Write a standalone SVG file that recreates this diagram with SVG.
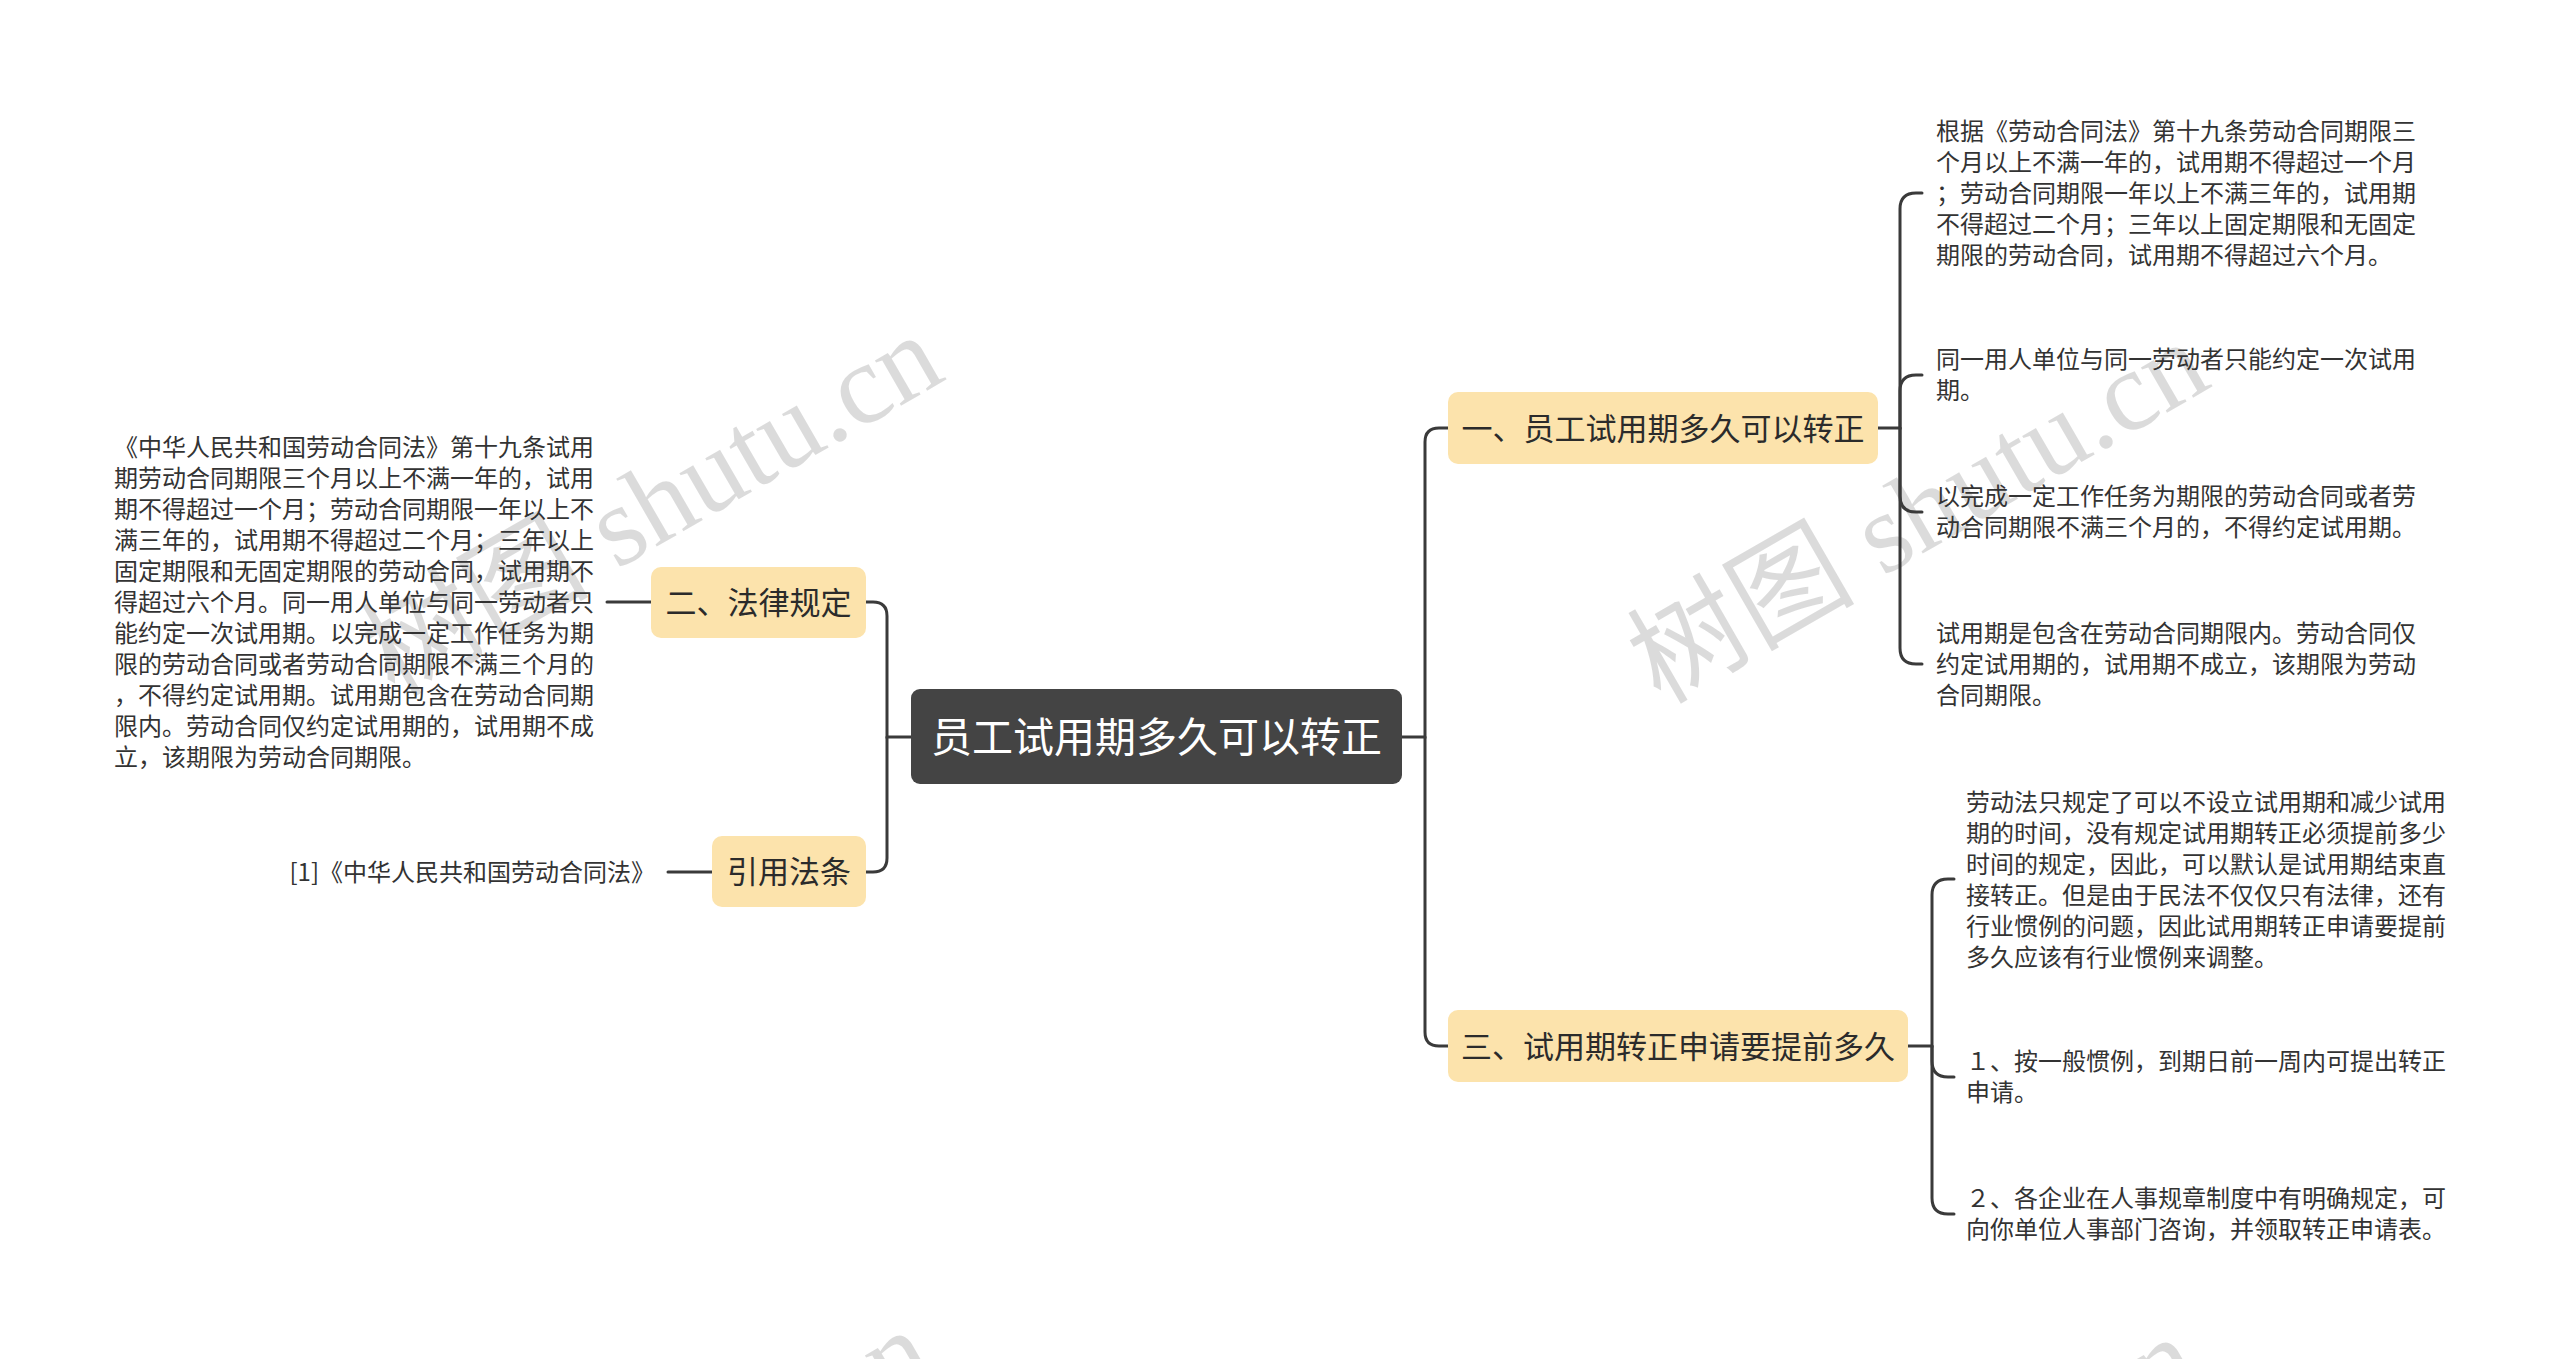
<svg xmlns="http://www.w3.org/2000/svg" width="2560" height="1359" viewBox="0 0 2560 1359">
<style>
.wm{font-family:"Liberation Serif","Noto Sans CJK SC",serif;font-size:114px;fill:#000;fill-opacity:0.14}
.root{fill:#444444}
.topic{fill:#FCE3AC}
.rt{font-family:"Noto Sans CJK SC","Noto Sans",sans-serif;font-size:41px;fill:#ffffff}
.tt{font-family:"Noto Sans CJK SC","Noto Sans",sans-serif;font-size:31px;fill:#2b2b2b}
.bt{font-family:"Noto Sans CJK SC","Noto Sans",sans-serif;font-size:24px;fill:#333333}
.ln{fill:none;stroke:#3a3a3a;stroke-width:3;stroke-linecap:round}
</style>
<rect width="2560" height="1359" fill="#ffffff"/>
<g id="watermarks">
<text class="wm" transform="translate(652,505) rotate(-30)" text-anchor="middle" dominant-baseline="central">树图 shutu.cn</text>
<text class="wm" transform="translate(1918,512) rotate(-30)" text-anchor="middle" dominant-baseline="central">树图 shutu.cn</text>
<text class="wm" transform="translate(642,1500) rotate(-30)" text-anchor="middle" dominant-baseline="central">树图 shutu.cn</text>
<text class="wm" transform="translate(1908,1507) rotate(-30)" text-anchor="middle" dominant-baseline="central">树图 shutu.cn</text>
</g>
<g id="connectors">
<path class="ln" d="M911 737 H887 V616 Q887 602 873 602 H866"/>
<path class="ln" d="M887 737 V858 Q887 872 873 872 H866"/>
<path class="ln" d="M712 872 H668"/>
<path class="ln" d="M651 602 H607"/>
<path class="ln" d="M1402 737 H1425 V442 Q1425 428 1439 428 H1448"/>
<path class="ln" d="M1425 737 V1032 Q1425 1046 1439 1046 H1448"/>
<path class="ln" d="M1878 428 H1900 V209 Q1900 193 1916 193 H1922"/>
<path class="ln" d="M1900 428 V391 Q1900 375 1916 375 H1922"/>
<path class="ln" d="M1900 428 V496 Q1900 512 1916 512 H1922"/>
<path class="ln" d="M1900 428 V648 Q1900 664 1916 664 H1922"/>
<path class="ln" d="M1908 1046 H1932 V895 Q1932 879 1948 879 H1954"/>
<path class="ln" d="M1932 1046 V1061 Q1932 1077 1948 1077 H1954"/>
<path class="ln" d="M1932 1046 V1198 Q1932 1214 1948 1214 H1954"/>
</g>
<g id="root">
<rect class="root" x="911" y="689" width="491" height="95" rx="9"/>
<text class="rt" x="1156.5" y="734" text-anchor="middle" dominant-baseline="central">员工试用期多久可以转正</text>
</g>
<g id="topic1">
<rect class="topic" x="1448" y="392" width="430" height="72" rx="10"/>
<text class="tt" x="1663" y="426" text-anchor="middle" dominant-baseline="central">一、员工试用期多久可以转正</text>
</g>
<g id="topic2">
<rect class="topic" x="651" y="567" width="215" height="71" rx="10"/>
<text class="tt" x="758.5" y="600.5" text-anchor="middle" dominant-baseline="central">二、法律规定</text>
</g>
<g id="topic3">
<rect class="topic" x="1448" y="1010" width="460" height="72" rx="10"/>
<text class="tt" x="1678" y="1044" text-anchor="middle" dominant-baseline="central">三、试用期转正申请要提前多久</text>
</g>
<g id="topic4">
<rect class="topic" x="712" y="836" width="154" height="71" rx="10"/>
<text class="tt" x="789" y="869.5" text-anchor="middle" dominant-baseline="central">引用法条</text>
</g>
<g id="t1-item1">
<text class="bt" dominant-baseline="central">
<tspan x="1936" y="129">根据《劳动合同法》第十九条劳动合同期限三</tspan>
<tspan x="1936" y="160">个月以上不满一年的，试用期不得超过一个月</tspan>
<tspan x="1936" y="191">；劳动合同期限一年以上不满三年的，试用期</tspan>
<tspan x="1936" y="222">不得超过二个月；三年以上固定期限和无固定</tspan>
<tspan x="1936" y="253">期限的劳动合同，试用期不得超过六个月。</tspan>
</text>
</g>
<g id="t1-item2">
<text class="bt" dominant-baseline="central">
<tspan x="1936" y="357">同一用人单位与同一劳动者只能约定一次试用</tspan>
<tspan x="1936" y="388">期。</tspan>
</text>
</g>
<g id="t1-item3">
<text class="bt" dominant-baseline="central">
<tspan x="1936" y="494">以完成一定工作任务为期限的劳动合同或者劳</tspan>
<tspan x="1936" y="525">动合同期限不满三个月的，不得约定试用期。</tspan>
</text>
</g>
<g id="t1-item4">
<text class="bt" dominant-baseline="central">
<tspan x="1936" y="631">试用期是包含在劳动合同期限内。劳动合同仅</tspan>
<tspan x="1936" y="662">约定试用期的，试用期不成立，该期限为劳动</tspan>
<tspan x="1936" y="693">合同期限。</tspan>
</text>
</g>
<g id="t2-item1">
<text class="bt" dominant-baseline="central">
<tspan x="114" y="445">《中华人民共和国劳动合同法》第十九条试用</tspan>
<tspan x="114" y="476">期劳动合同期限三个月以上不满一年的，试用</tspan>
<tspan x="114" y="507">期不得超过一个月；劳动合同期限一年以上不</tspan>
<tspan x="114" y="538">满三年的，试用期不得超过二个月；三年以上</tspan>
<tspan x="114" y="569">固定期限和无固定期限的劳动合同，试用期不</tspan>
<tspan x="114" y="600">得超过六个月。同一用人单位与同一劳动者只</tspan>
<tspan x="114" y="631">能约定一次试用期。以完成一定工作任务为期</tspan>
<tspan x="114" y="662">限的劳动合同或者劳动合同期限不满三个月的</tspan>
<tspan x="114" y="693">，不得约定试用期。试用期包含在劳动合同期</tspan>
<tspan x="114" y="724">限内。劳动合同仅约定试用期的，试用期不成</tspan>
<tspan x="114" y="755">立，该期限为劳动合同期限。</tspan>
</text>
</g>
<g id="t3-item1">
<text class="bt" dominant-baseline="central">
<tspan x="1966" y="800">劳动法只规定了可以不设立试用期和减少试用</tspan>
<tspan x="1966" y="831">期的时间，没有规定试用期转正必须提前多少</tspan>
<tspan x="1966" y="862">时间的规定，因此，可以默认是试用期结束直</tspan>
<tspan x="1966" y="893">接转正。但是由于民法不仅仅只有法律，还有</tspan>
<tspan x="1966" y="924">行业惯例的问题，因此试用期转正申请要提前</tspan>
<tspan x="1966" y="955">多久应该有行业惯例来调整。</tspan>
</text>
</g>
<g id="t3-item2">
<text class="bt" dominant-baseline="central">
<tspan x="1966" y="1059">１、按一般惯例，到期日前一周内可提出转正</tspan>
<tspan x="1966" y="1090">申请。</tspan>
</text>
</g>
<g id="t3-item3">
<text class="bt" dominant-baseline="central">
<tspan x="1966" y="1196">２、各企业在人事规章制度中有明确规定，可</tspan>
<tspan x="1966" y="1227">向你单位人事部门咨询，并领取转正申请表。</tspan>
</text>
</g>
<g id="t4-item1">
<text class="bt" x="655" y="870" text-anchor="end" dominant-baseline="central">[1]《中华人民共和国劳动合同法》</text>
</g>
</svg>
